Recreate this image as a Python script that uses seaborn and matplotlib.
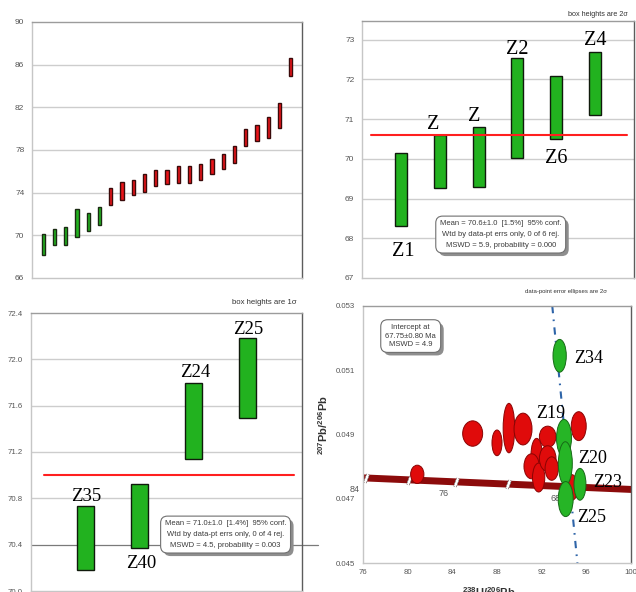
import numpy as np
import pandas as pd
import matplotlib
matplotlib.use("Agg")
import matplotlib.pyplot as plt
import matplotlib.patheffects as pe
from matplotlib.patches import Ellipse
from matplotlib.ticker import FormatStrFormatter, NullLocator
import seaborn as sns

# ---------------- data ----------------
# Ranked 206Pb/238U zircon ages (Ma); each box spans the 2 sigma range
rank_lo = [68.15, 69.12, 69.12, 69.84, 70.37, 71.00, 72.87, 73.33, 73.80, 74.05, 74.64, 74.83,
           74.89, 74.89, 75.20, 75.77, 76.20, 76.77, 78.39, 78.80, 79.17, 80.04, 84.94]
rank_hi = [70.12, 70.59, 70.74, 72.46, 72.09, 72.65, 74.43, 74.96, 75.17, 75.77, 76.08, 76.14,
           76.52, 76.52, 76.67, 77.11, 77.64, 78.39, 79.95, 80.36, 81.07, 82.45, 86.60]
rank_group = ["young"] * 6 + ["older"] * 17
rank_ticks = [66, 70, 74, 78, 82, 86, 90]

# Weighted mean, youngest population (2 sigma boxes)
wm2_names = ["Z1", "Z", "Z", "Z2", "Z6", "Z4"]
wm2_lo = [68.32, 69.27, 69.30, 70.01, 70.49, 71.11]
wm2_hi = [70.15, 70.61, 70.80, 72.54, 72.08, 72.68]
wm2_mean = 70.6
wm2_ticks = [67, 68, 69, 70, 71, 72, 73]
wm2_text = "Mean = 70.6±1.0  [1.5%]  95% conf.\nWtd by data-pt errs only, 0 of 6 rej.\nMSWD = 5.9, probability = 0.000"

# Weighted mean, second sample (1 sigma boxes)
wm3_names = ["Z35", "Z40", "Z24", "Z25"]
wm3_lo = [70.18, 70.37, 71.14, 71.49]
wm3_hi = [70.73, 70.92, 71.80, 72.18]
wm3_mean = 71.0
wm3_ticks = [70.0, 70.4, 70.8, 71.2, 71.6, 72.0, 72.4]
wm3_text = "Mean = 71.0±1.0  [1.4%]  95% conf.\nWtd by data-pt errs only, 0 of 4 rej.\nMSWD = 4.5, probability = 0.003"

# Tera-Wasserburg spots: centre, full 2 sigma ellipse width / height
tw_red_x = [80.86, 85.82, 88.00, 89.07, 90.33, 92.54, 91.55, 91.10, 91.73, 92.54, 92.90, 95.32, 94.70]
tw_red_y = [0.04776, 0.04903, 0.04874, 0.04920, 0.04917, 0.04893, 0.04836, 0.04801, 0.04766,
            0.04825, 0.04794, 0.04926, 0.04735]
tw_red_w = [1.19, 1.79, 0.90, 1.04, 1.61, 1.49, 1.01, 1.37, 1.10, 1.49, 1.19, 1.34, 1.10]
tw_red_h = [0.00057, 0.00079, 0.00080, 0.00154, 0.00099, 0.00066, 0.00104, 0.00078, 0.00090,
            0.00080, 0.00073, 0.00090, 0.00080]

tw_green_names = ["Z34", "Z19", "Z20", "Z23", "Z25"]
tw_green_x = [93.61, 94.00, 94.12, 95.43, 94.15]
tw_green_y = [0.05145, 0.04889, 0.04810, 0.04745, 0.04699]
tw_green_w = [1.19, 1.34, 1.25, 1.07, 1.34]
tw_green_h = [0.00102, 0.00116, 0.00135, 0.00099, 0.00109]

tw_x_ticks = [76, 80, 84, 88, 92, 96, 100]
tw_y_ticks = [0.045, 0.047, 0.049, 0.051, 0.053]

concordia_x = [76.0, 100.0]
concordia_y = [0.04765, 0.04729]
concordia_tick_x = [76.3, 80.1, 84.3, 89.0, 94.3]
concordia_tick_age = [84, 80, 76, 72, 68]
discordia_x = [92.95, 95.2]
discordia_y = [0.053, 0.045]
intercept_text = "Intercept at\n67.75±0.80 Ma\nMSWD = 4.9"

# ---------------- styling ----------------
sns.set_theme(style="white")
plt.rcParams.update({
    "font.family": ["Liberation Sans", "DejaVu Sans"],
    "mathtext.fontset": "custom",
    "mathtext.rm": "Liberation Sans",
    "mathtext.bf": "Liberation Sans:bold",
    "mathtext.default": "regular",
})

GREEN, GREEN_EDGE = "#22b21f", "#1a2a12"
RED, RED_EDGE = "#ea1419", "#3a0a0a"
ELL_RED, ELL_RED_EDGE = "#e00b0b", "#8a0303"
ELL_GREEN, ELL_GREEN_EDGE = "#26b526", "#166a16"
MEAN_RED = "#ff1f1f"
TICK_GRAY = "#555555"
SERIF = ["Liberation Serif", "DejaVu Serif"]

W, H = 636, 592
fig = plt.figure(figsize=(W / 100, H / 100), dpi=100)
fig.patch.set_facecolor("white")


def px_axes(left, top, right, bottom):
    return fig.add_axes([left / W, 1 - bottom / H, (right - left) / W, (bottom - top) / H])


def minor_between(ticks):
    return [(a + b) / 2 for a, b in zip(ticks[:-1], ticks[1:])]


def frame(ax, labelsize=6.0, pad=5.0, direction="out"):
    ax.set_facecolor("white")
    for side in ("left", "bottom"):
        ax.spines[side].set_color("#c6c6c6")
    ax.spines["top"].set_color("#9c9c9c")
    ax.spines["right"].set_color("#5c5c5c")
    for s in ax.spines.values():
        s.set_visible(True)
        s.set_linewidth(1.0)
    ax.tick_params(axis="both", which="major", length=0, labelsize=labelsize,
                   labelcolor=TICK_GRAY, pad=pad)
    ax.tick_params(axis="both", which="minor", length=2.5, width=0.6, color="#9a9a9a",
                   direction=direction)
    ax.set_xlabel("")
    ax.set_ylabel("")


def boxes(ax, lo, hi, faces, edges, width):
    pos = np.arange(1, len(lo) + 1)
    df = pd.DataFrame({"pos": pos, "height": np.subtract(hi, lo)})
    sns.barplot(data=df, x="pos", y="height", native_scale=True, orient="x", width=width,
                errorbar=None, color=faces[0], ax=ax, bottom=lo, facecolor=faces,
                edgecolor=edges, linewidth=1.0, zorder=3)
    ax.xaxis.set_major_locator(NullLocator())
    return pos


def value_axis(ax, ticks, fmt=None):
    ax.set_ylim(ticks[0], ticks[-1])
    ax.set_yticks(ticks)
    ax.set_yticks(minor_between(ticks), minor=True)
    if fmt:
        ax.yaxis.set_major_formatter(FormatStrFormatter(fmt))


def stat_box(ax, xf, yf, text, size, spacing, pad):
    t = ax.text(xf, yf, text, transform=ax.transAxes, ha="center", va="center",
                fontsize=size, linespacing=spacing, color="#3a3a3a", zorder=7,
                bbox=dict(boxstyle=f"round,pad={pad},rounding_size=0.9", fc="white",
                          ec="#707070", lw=0.8))
    # drop shadow under the rounded frame
    t.get_bbox_patch().set_path_effects([
        pe.SimplePatchShadow(offset=(2.2, -2.2), shadow_rgbFace="#8e8e8e", alpha=1.0),
        pe.Normal(),
    ])


def hgrid(ax, values, skip=()):
    for v in values:
        if v not in skip:
            ax.axhline(v, color="#cdcdcd", lw=1.0, zorder=1)


# ---------------- top-left: ranked ages ----------------
ax1 = px_axes(32, 22, 302, 278)
faces1 = [GREEN if g == "young" else RED for g in rank_group]
edges1 = [GREEN_EDGE if g == "young" else RED_EDGE for g in rank_group]
boxes(ax1, rank_lo, rank_hi, faces1, edges1, 0.31)
ax1.set_xlim(0, len(rank_lo) + 1)
value_axis(ax1, rank_ticks)
hgrid(ax1, rank_ticks[1:-1])
frame(ax1, labelsize=6.0, pad=5.5)

# ---------------- top-right: 2 sigma weighted mean ----------------
ax2 = px_axes(362, 21, 634, 278)
pos2 = boxes(ax2, wm2_lo, wm2_hi, [GREEN] * len(wm2_lo), ["#101a0c"] * len(wm2_lo), 0.31)
ax2.axhline(wm2_mean, xmin=0.033, xmax=0.974, color=MEAN_RED, lw=1.5, zorder=4)
ax2.set_xlim(0, len(wm2_lo) + 1)
value_axis(ax2, wm2_ticks)
ax2.set_ylim(67, 73.47)
hgrid(ax2, wm2_ticks[1:])
frame(ax2, labelsize=6.0, pad=5.5)
label_off2 = [(2, -19), (-4.8, 7.5), (-3.4, 7.5), (0, 6), (0, -14), (0, 8.3)]
for p, name, lo, hi, (dx, dy) in zip(pos2, wm2_names, wm2_lo, wm2_hi, label_off2):
    ax2.annotate(name, (p, hi if dy > 0 else lo), xytext=(dx, dy), textcoords="offset points",
                 ha="center", va="center", fontsize=14.5, family=SERIF, color="black", zorder=8)
stat_box(ax2, 0.51, 0.169, wm2_text, 5.5, 1.75, 0.55)

# ---------------- bottom-left: 1 sigma weighted mean ----------------
ax3 = px_axes(31, 313, 302, 591)
pos3 = boxes(ax3, wm3_lo, wm3_hi, [GREEN] * len(wm3_lo), ["#101a0c"] * len(wm3_lo), 0.31)
ax3.axhline(wm3_mean, xmin=0.049, xmax=0.970, color=MEAN_RED, lw=1.5, zorder=4)
ax3.set_xlim(0, len(wm3_lo) + 1)
value_axis(ax3, wm3_ticks, "%.1f")
hgrid(ax3, wm3_ticks[1:-1], skip=(70.4,))
ax3.axhline(70.4, xmax=1.06, color="#7a7a7a", lw=0.9, zorder=1, clip_on=False)
frame(ax3, labelsize=5.6, pad=6.0)
label_off3 = [(1, 7.5), (1, -10.8), (1.5, 7.5), (0, 6.7)]
for p, name, lo, hi, (dx, dy) in zip(pos3, wm3_names, wm3_lo, wm3_hi, label_off3):
    ax3.annotate(name, (p, hi if dy > 0 else lo), xytext=(dx, dy), textcoords="offset points",
                 ha="center", va="center", fontsize=13.5, family=SERIF, color="black", zorder=8)
stat_box(ax3, 0.718, 0.203, wm3_text, 5.5, 1.75, 0.55)

# ---------------- bottom-right: Tera-Wasserburg concordia ----------------
ax4 = px_axes(363, 306, 631, 563)
sns.lineplot(x=concordia_x, y=concordia_y, ax=ax4, color="#8c0b0b", linewidth=5.0, zorder=2)
tick_y = np.interp(concordia_tick_x, concordia_x, concordia_y)
ax4.plot(concordia_tick_x, tick_y, ls="none", marker=(2, 2, -20), ms=6.5, mew=2.2,
         mec="#9a8a8a", zorder=2.2)
ax4.plot(concordia_tick_x, tick_y, ls="none", marker=(2, 2, -20), ms=6.0, mew=1.1,
         mec="white", zorder=2.3)
for tx, ty, age in zip(concordia_tick_x, tick_y, concordia_tick_age):
    if (84 - age) % 8 == 0:
        ax4.annotate(str(age), (tx, ty), xytext=(-8.5, -8.5), textcoords="offset points",
                     ha="center", va="center", fontsize=6.5, color=TICK_GRAY,
                     annotation_clip=False, zorder=2.4)
sns.lineplot(x=discordia_x, y=discordia_y, ax=ax4, color="#2e64a8", linewidth=1.5,
             linestyle=(0, (3.5, 3.0, 0.8, 3.0)), zorder=2.5)
for x, y, w, h in zip(tw_red_x, tw_red_y, tw_red_w, tw_red_h):
    ax4.add_patch(Ellipse((x, y), w, h, fc=ELL_RED, ec=ELL_RED_EDGE, lw=0.7, zorder=3))
for x, y, w, h in zip(tw_green_x, tw_green_y, tw_green_w, tw_green_h):
    ax4.add_patch(Ellipse((x, y), w, h, fc=ELL_GREEN, ec=ELL_GREEN_EDGE, lw=0.7, zorder=4))
label_off4 = [(10.4, -2.3), (-19.9, 17.8), (9.1, 3.5), (9.6, 1.6), (8.4, -13.6)]
for name, x, y, (dx, dy) in zip(tw_green_names, tw_green_x, tw_green_y, label_off4):
    ax4.annotate(name, (x, y), xytext=(dx, dy), textcoords="offset points", ha="left",
                 va="center", fontsize=13, family=SERIF, color="black", zorder=8)
ax4.set_xlim(tw_x_ticks[0], tw_x_ticks[-1])
ax4.set_xticks(tw_x_ticks)
ax4.set_xticks(minor_between(tw_x_ticks), minor=True)
value_axis(ax4, tw_y_ticks, "%.3f")
frame(ax4, labelsize=5.6, pad=6.0, direction="in")
ax4.tick_params(axis="x", which="major", pad=4)
stat_box(ax4, 0.178, 0.883, intercept_text, 5.5, 1.25, 0.6)

# ---------------- annotations around the panels ----------------
fig.text(628 / W, 1 - 14 / H, "box heights are 2σ", ha="right", va="center",
         fontsize=5.2, color="#333333")
fig.text(297 / W, 1 - 303 / H, "box heights are 1σ", ha="right", va="center",
         fontsize=5.6, color="#333333")
fig.text(566 / W, 1 - 292 / H, "data-point error ellipses are 2σ", ha="center", va="center",
         fontsize=4.3, color="#333333")
fig.text(323 / W, 1 - 425 / H, r"$^{207}$Pb/$^{206}$Pb", rotation=90, ha="center",
         va="center", fontsize=8, fontweight="bold", color="#333333")
fig.text(489 / W, 1 - 585 / H, r"$^{238}$U/$^{206}$Pb", ha="center", va="top",
         fontsize=8, fontweight="bold", color="#333333")

fig.savefig("out.png", dpi=100, facecolor="white")
